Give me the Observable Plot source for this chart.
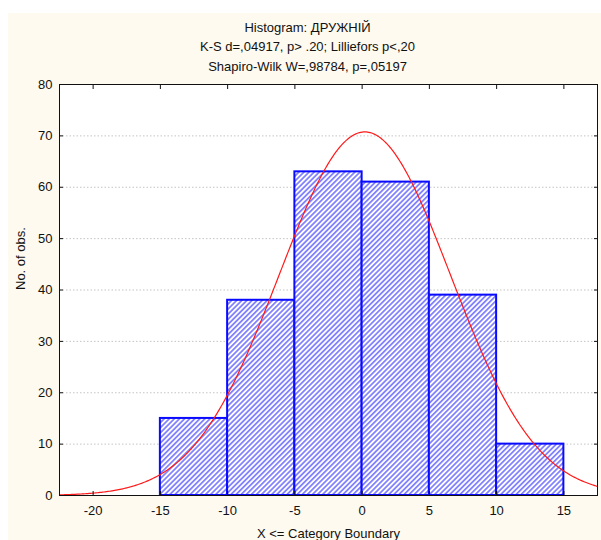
<!DOCTYPE html>
<html>
<head>
<meta charset="utf-8">
<script src="https://cdn.jsdelivr.net/npm/d3@7"></script>
<script src="https://cdn.jsdelivr.net/npm/@observablehq/plot@0.6"></script>
<style>
  html, body { margin: 0; padding: 0; background: #ffffff; }
  #wrap { position: relative; width: 601px; height: 540px; overflow: hidden; }
  #bg { position: absolute; left: 8px; top: 13px; width: 593px; height: 527px; background: #fefaf0; }
  #chart { position: absolute; left: 0; top: 0; }
</style>
</head>
<body>
<div id="wrap"><div id="bg"></div><div id="chart"></div></div>
<script>
// ---- data ----
const titleLines = [
  "Histogram: ДРУЖНІЙ",
  "K-S d=,04917, p> .20; Lilliefors p<,20",
  "Shapiro-Wilk W=,98784, p=,05197"
];
const binLower = [-15, -10, -5, 0, 5, 10];
const binUpper = [-10, -5, 0, 5, 10, 15];
const counts   = [15, 38, 63, 61, 39, 10];
const xTicks = [-20, -15, -10, -5, 0, 5, 10, 15];
const yTicks = [0, 10, 20, 30, 40, 50, 60, 70, 80];
const xDomain = [-22.5, 17.5];
const yDomain = [0, 80];
// fitted normal curve parameters (expected-frequency curve)
const fitMean = 0.2;
const fitSd = 6.37;
const binWidth = 5;
const xLabel = "X <= Category Boundary";
const yLabel = "No. of obs.";

// ---- build tables ----
const bars = binLower.map((lo, i) => ({lo, hi: binUpper[i], n: counts[i]}));
const total = d3.sum(counts);
const curve = d3.range(xDomain[0], xDomain[1] + 0.001, 0.1).map(x => ({
  x,
  y: total * binWidth * Math.exp(-((x - fitMean) ** 2) / (2 * fitSd * fitSd)) / (fitSd * Math.sqrt(2 * Math.PI))
}));

const blank = () => "";
const fmt = d => String(d);
const titleDy = [-57, -38, -18];
const FS = 13;
const plot = Plot.plot({
  width: 601,
  height: 540,
  marginLeft: 59,
  marginRight: 4,
  marginTop: 84,
  marginBottom: 45,
  style: {fontFamily: "'Liberation Sans', Arial, sans-serif", fontSize: FS + "px", background: "transparent", overflow: "visible", color: "#111"},
  x: {domain: xDomain},
  y: {domain: yDomain},
  marks: [
    Plot.frame({fill: "white", stroke: "none"}),
    Plot.gridY({ticks: yTicks, stroke: "#c4c4c4", strokeOpacity: 1, strokeDasharray: "1.5,2"}),
    Plot.rectY(bars, {x1: "lo", x2: "hi", y: "n", fill: "url(#hatch)", stroke: "#0a0aff", strokeWidth: 2}),
    Plot.line(curve, {x: "x", y: "y", stroke: "#ff1a1a", strokeWidth: 1.2, clip: "frame"}),
    Plot.frame({stroke: "#111", strokeWidth: 1}),
    Plot.axisX({ticks: xTicks, anchor: "bottom", tickSize: 0, tickPadding: 10, tickFormat: fmt, label: null, fontSize: FS}),
    Plot.axisY({ticks: yTicks, anchor: "left", tickSize: 0, tickPadding: 7, tickFormat: fmt, label: null, fontSize: FS}),
    Plot.axisX({ticks: xTicks, anchor: "bottom", tickSize: -4, tickFormat: blank, label: null}),
    Plot.axisX({ticks: xTicks, anchor: "top", tickSize: -4, tickFormat: blank, label: null}),
    Plot.axisY({ticks: yTicks, anchor: "left", tickSize: -4, tickFormat: blank, label: null}),
    Plot.axisY({ticks: yTicks, anchor: "right", tickSize: -4, tickFormat: blank, label: null}),
    ...titleLines.map((t, i) => Plot.text([t], {text: d => d, frameAnchor: "top", dx: -21, dy: titleDy[i], lineAnchor: "middle", fill: "#111", fontSize: FS})),
    Plot.text([yLabel], {text: d => d, frameAnchor: "left", dx: -39, rotate: -90, lineAnchor: "middle", fill: "#111", fontSize: FS}),
    Plot.text([xLabel], {text: d => d, frameAnchor: "bottom", dy: 38, lineAnchor: "middle", fill: "#111", fontSize: FS})
  ]
});

// hatch pattern definition
const ns = "http://www.w3.org/2000/svg";
const defs = document.createElementNS(ns, "defs");
defs.innerHTML = `<pattern id="hatch" patternUnits="userSpaceOnUse" width="8" height="3.6" patternTransform="rotate(-45)">
  <rect width="8" height="3.6" fill="#ffffff"/>
  <line x1="0" y1="1.8" x2="8" y2="1.8" stroke="#1f1fff" stroke-width="1"/>
</pattern>`;
plot.insertBefore(defs, plot.firstChild);
document.getElementById("chart").appendChild(plot);
</script>
</body>
</html>
